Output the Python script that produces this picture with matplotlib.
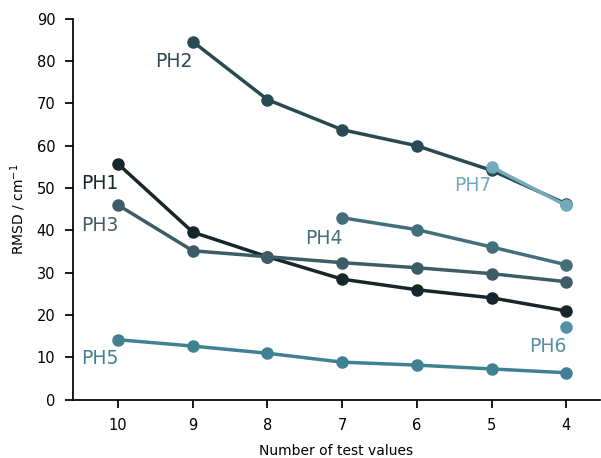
import numpy as np
import matplotlib.pyplot as plt

x_labels = ['10', '9', '8', '7', '6', '5', '4']

ph1 = [55.7, 39.6, 33.8, 28.5, 26.0, 24.1, 21.0]
ph2 = [None, 84.6, 70.9, 63.8, 60.0, 54.2, 46.3]
ph3 = [46.0, 35.2, 33.8, 32.4, 31.2, 29.8, 27.9]
ph4 = [None, None, None, 43.0, 40.2, 36.1, 31.9]
ph5 = [14.2, 12.7, 11.0, 8.9, 8.2, 7.3, 6.4]
ph6 = [None, None, None, None, None, None, 17.2]
ph7 = [None, None, None, None, None, 55.0, 45.9]

names = ['PH1', 'PH2', 'PH3', 'PH4', 'PH5', 'PH6', 'PH7']
series = [ph1, ph2, ph3, ph4, ph5, ph6, ph7]
colours = ['#17262a', '#2a4a53', '#3c5d66', '#436f7b', '#3f8193',
           '#5092a4', '#73aabb']

# label positions (x index, y value)
label_pos = [(0, 51.0), (1, 80.0), (0, 41.2), (3, 38.2), (0, 9.8),
             (6, 12.5), (5, 50.7)]

plt.rcParams['font.family'] = 'DejaVu Sans'

fig = plt.figure(figsize=(6.01, 4.58), dpi=100)
ax = fig.add_axes([0.122, 0.127, 0.876, 0.832])

xs = np.arange(len(x_labels))
for vals, c in zip(series, colours):
    v = np.array([np.nan if a is None else a for a in vals], dtype=float)
    ok = ~np.isnan(v)
    ax.plot(xs[ok], v[ok], color=c, lw=2.5, marker='o', ms=8,
            zorder=3)

for n, c, (xi, yv) in zip(names, colours, label_pos):
    ax.text(xi, yv, n, color=c, fontsize=13.5, ha='right', va='center')

ax.set_xticks(xs)
ax.set_xticklabels(x_labels)
ax.set_xlim(-0.6, 6.45)
ax.set_ylim(0, 90)
ax.set_yticks(np.arange(0, 91, 10))
ax.set_xlabel('Number of test values', fontsize=10, labelpad=8)
ax.set_ylabel('RMSD / cm$^{-1}$', fontsize=10, labelpad=6)
ax.tick_params(labelsize=10.5, length=6, width=1.25, pad=7)
for s in ('top', 'right'):
    ax.spines[s].set_visible(False)
for s in ('left', 'bottom'):
    ax.spines[s].set_linewidth(1.25)

fig.savefig('out.png', dpi=100)
